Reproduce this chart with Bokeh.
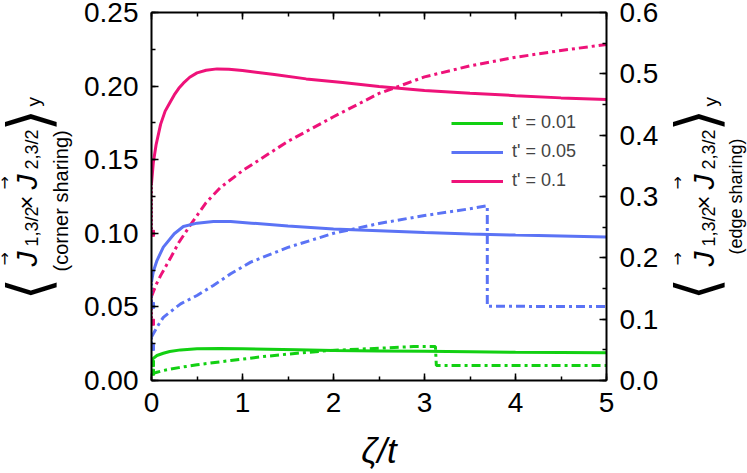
from math import pi
import numpy as np
from bokeh.plotting import figure
from bokeh.layouts import row
from bokeh.models import (Range1d, LinearAxis, FixedTicker, PrintfTickFormatter,
                          CustomJSTickFormatter, Legend, LegendItem)
from bokeh.core.properties import value
from bokeh.embed import file_html
from bokeh.resources import INLINE

# ---------------- data ----------------
# corner sharing (left axis, solid)
zeta_ps = [0, 0.02, 0.05, 0.1, 0.15, 0.2, 0.25, 0.3, 0.35, 0.42, 0.5, 0.6, 0.72, 0.85, 1.0, 1.35, 1.7, 2.1,
           2.5, 3, 3.5, 4, 4.5, 5]
pink_solid = [0.134, 0.148, 0.160, 0.174, 0.183, 0.1885, 0.194, 0.1985, 0.202, 0.206, 0.209, 0.2108, 0.2117,
              0.2114, 0.2106, 0.2079, 0.2049, 0.2024, 0.1998, 0.197, 0.1952, 0.1935, 0.192, 0.1909]
zeta_bs = [0, 0.02, 0.06, 0.13, 0.25, 0.35, 0.5, 0.68, 0.87, 1.1, 1.5, 2, 2.5, 3, 3.5, 4, 4.5, 5]
blue_solid = [0.067, 0.074, 0.0815, 0.0906, 0.0997, 0.1046, 0.1069, 0.108, 0.108, 0.1069, 0.105, 0.103,
              0.1018, 0.1005, 0.0995, 0.0988, 0.0982, 0.0975]
zeta_gs = [0, 0.02, 0.06, 0.13, 0.2, 0.32, 0.5, 0.75, 1.0, 1.6, 2.0, 2.5, 3.0, 3.5, 4.0, 4.5, 5.0]
green_solid = [0.0135, 0.015, 0.017, 0.0185, 0.0197, 0.0208, 0.0215, 0.0217, 0.0216, 0.0209, 0.0204,
               0.0201, 0.0198, 0.0195, 0.0192, 0.019, 0.0188]

# edge sharing (right axis, dash-dot)
zeta_pd = [0, 0.05, 0.1, 0.21, 0.3, 0.43, 0.6, 0.76, 1.0, 1.5, 2, 2.5, 3, 3.5, 4, 4.5, 5]
pink_dd = [0.137, 0.156, 0.171, 0.20, 0.225, 0.254, 0.29, 0.315, 0.342, 0.39, 0.43, 0.468, 0.495, 0.513,
           0.527, 0.538, 0.548]
zeta_bd = [0, 0.06, 0.13, 0.32, 0.5, 0.68, 0.87, 1.09, 1.5, 2, 2.5, 3, 3.5, 3.69, 3.69, 4, 4.5, 5]
blue_dd = [0.0707, 0.087, 0.103, 0.125, 0.1386, 0.155, 0.174, 0.193, 0.217, 0.24, 0.256, 0.269, 0.28,
           0.285, 0.121, 0.121, 0.1205, 0.1205]
zeta_gd = [0, 0.05, 0.13, 0.3, 0.5, 0.87, 1.23, 1.6, 1.97, 2.52, 2.88, 3.12, 3.13, 3.5, 4, 4.5, 5]
green_dd = [0.011, 0.013, 0.0163, 0.021, 0.0256, 0.0326, 0.039, 0.0445, 0.049, 0.0527, 0.0554, 0.0555,
            0.0245, 0.0245, 0.0245, 0.0245, 0.0245]

# values at zeta = 0 (square markers)
marker_solid = {"pink": 0.100, "blue": 0.051, "green": 0.0115}
marker_dd = {"pink": 0.095, "blue": 0.054, "green": 0.0135}

legend_labels = ["t' = 0.01", "t' = 0.05", "t' = 0.1"]
x_ticks = [0, 1, 2, 3, 4, 5]
yl_ticks = [0.0, 0.05, 0.10, 0.15, 0.20, 0.25]
yr_ticks = [0.0, 0.1, 0.2, 0.3, 0.4, 0.5, 0.6]

COL = {"green": "#12d012", "blue": "#5b73f5", "pink": "#ee1279"}
FONT = "Liberation Sans"
BRACKET_FONT = "'DejaVu Sans ExtraLight', 'DejaVu Sans'"
DASHDOT = "9 4 3 4"
H = 473
LW, MW, RW = 78, 586, 83
TOP, BOT = 12, 93

# ---------------- main figure ----------------
p = figure(width=MW, height=H, output_backend="svg", toolbar_location=None,
           x_range=Range1d(0, 5), y_range=Range1d(0, 0.25),
           min_border_left=151 - LW, min_border_right=58, min_border_top=TOP, min_border_bottom=BOT,
           x_axis_location=None, y_axis_location=None)
p.extra_y_ranges = {"right": Range1d(0, 0.6)}
p.xgrid.visible = False
p.ygrid.visible = False
p.outline_line_color = None
p.background_fill_color = "white"
p.border_fill_color = "white"


def style(ax, label_size="28px", standoff=12):
    ax.axis_line_width = 2
    ax.axis_line_color = "black"
    ax.major_tick_in = 7
    ax.major_tick_out = 0
    ax.minor_tick_in = 4
    ax.minor_tick_out = 0
    ax.major_tick_line_width = 1.5
    ax.minor_tick_line_width = 1.5
    ax.major_tick_line_color = "black"
    ax.minor_tick_line_color = "black"
    ax.major_label_text_font = FONT
    ax.major_label_text_font_size = label_size
    ax.major_label_text_color = "black"
    ax.major_label_standoff = standoff


bottom = LinearAxis(ticker=FixedTicker(ticks=x_ticks, minor_ticks=list(np.arange(0, 5.01, 0.5))),
                    formatter=PrintfTickFormatter(format="%d"),
                    axis_label="\u03b6/t")
style(bottom)
bottom.axis_label_text_font = FONT
bottom.axis_label_text_font_size = "35px"
bottom.axis_label_text_font_style = "italic"
bottom.axis_label_text_color = "black"
bottom.axis_label_standoff = 16
p.add_layout(bottom, "below")

top = LinearAxis(ticker=FixedTicker(ticks=x_ticks, minor_ticks=list(np.arange(0, 5.01, 0.5))),
                 formatter=CustomJSTickFormatter(code="return ''"))
style(top, "0px", 0)
p.add_layout(top, "above")

left = LinearAxis(ticker=FixedTicker(ticks=yl_ticks, minor_ticks=list(np.arange(0, 0.2501, 0.025))),
                  formatter=PrintfTickFormatter(format="%.2f"))
style(left, standoff=13)
p.add_layout(left, "left")

right = LinearAxis(y_range_name="right",
                   ticker=FixedTicker(ticks=yr_ticks, minor_ticks=list(np.arange(0, 0.601, 0.05))),
                   formatter=PrintfTickFormatter(format="%.1f"))
style(right, standoff=13)
p.add_layout(right, "right")

# ---------------- curves ----------------
series_solid = [("green", zeta_gs, green_solid), ("blue", zeta_bs, blue_solid), ("pink", zeta_ps, pink_solid)]
series_dd = [("green", zeta_gd, green_dd), ("blue", zeta_bd, blue_dd), ("pink", zeta_pd, pink_dd)]

for name, xs, ys in series_dd:
    p.line(xs, ys, color=COL[name], line_width=3, line_dash=DASHDOT, y_range_name="right")
    p.segment(x0=[xs[0]], y0=[marker_dd[name]], x1=[xs[0]], y1=[ys[0]], color=COL[name],
              line_width=3, line_dash="2 2", y_range_name="right")
    p.scatter([xs[0]], [marker_dd[name]], marker="square", size=6, color=COL[name], y_range_name="right")

solid_renderers = []
for name, xs, ys in series_solid:
    r = p.line(xs, ys, color=COL[name], line_width=3)
    solid_renderers.append(r)
    p.segment(x0=[xs[0]], y0=[marker_solid[name]], x1=[xs[0]], y1=[ys[0]], color=COL[name],
              line_width=3, line_dash="2 2")
    p.scatter([xs[0]], [marker_solid[name]], marker="square", size=6, color=COL[name])

legend = Legend(items=[LegendItem(label=lab, renderers=[r]) for lab, r in zip(legend_labels, solid_renderers)],
                location=(300, 189), padding=0, margin=0, spacing=8,
                glyph_width=52, glyph_height=20, label_height=20, label_standoff=9,
                label_text_font=FONT, label_text_font_size="18px",
                border_line_color=None, background_fill_alpha=0)
p.add_layout(legend, "center")


# ---------------- y-axis title panels ----------------
# the row aligns all frames to the main frame (top TOP, bottom H-BOT), so the panels
# map picture rows 1:1 with data y = H - picture_y
def label_panel(width):
    f = figure(width=width, height=H, output_backend="svg", toolbar_location=None,
               x_range=Range1d(0, width), y_range=Range1d(BOT, H - TOP),
               min_border_left=0, min_border_right=0, min_border_top=TOP, min_border_bottom=BOT,
               x_axis_location=None, y_axis_location=None)
    f.xgrid.visible = False
    f.ygrid.visible = False
    f.outline_line_color = None
    f.background_fill_color = "white"
    f.border_fill_color = "white"
    return f


def put(f, text, bx, iy, size, style="normal", font=FONT):
    # rotated text read bottom-to-top; bx: baseline x in the panel, iy: picture y of the text start
    f.text(x=[bx], y=[H - iy], text=[text], angle=pi / 2, text_align="left", text_baseline="alphabetic",
           text_font=value(font), text_font_size=value(size), text_font_style=style, text_color="black")


def ylabel(f, jb, br, ar, note, note_size, note_b, note_start):
    put(f, "\u27e8", br, 300, "58px", font=BRACKET_FONT)
    put(f, "\u2192", ar, 265, "16px", font="DejaVu Sans")
    put(f, "J", jb, 266, "30px", style="italic")
    put(f, "1,3/2", jb + 5, 246, "18px")
    put(f, "\u00d7", jb, 209, "24px")
    put(f, "\u2192", ar, 189, "16px", font="DejaVu Sans")
    put(f, "J", jb, 189, "30px", style="italic")
    put(f, "2,3/2", jb + 5, 169, "18px")
    put(f, "\u27e9", br, 131, "58px", font=BRACKET_FONT)
    put(f, "y", jb + 7, 106, "19px")
    put(f, note, note_b, note_start, note_size)


lp = label_panel(LW)
ylabel(lp, 26, 28, 3.5, "(corner sharing)", "20px", 60.5, 271)
rp = label_panel(RW)
ylabel(rp, 39, 32, 13, "(edge sharing)", "18px", 71, 254)

layout = row(lp, p, rp, spacing=0)
open("out.html", "w").write(file_html(layout, INLINE))
